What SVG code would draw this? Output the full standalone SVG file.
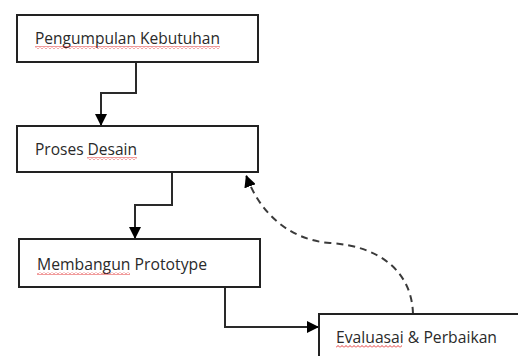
<svg xmlns="http://www.w3.org/2000/svg" width="518" height="356" viewBox="0 0 518 356">
  <defs>
    <marker id="arrow" viewBox="0 0 10 10" refX="10" refY="5" markerWidth="12" markerHeight="12" markerUnits="userSpaceOnUse" orient="auto">
      <path d="M0,0 L10,5 L0,10 Z" fill="#000"/>
    </marker>
    <pattern id="squiggle" width="4" height="3" patternUnits="userSpaceOnUse">
      <path d="M0,2.5 L2,0.5 L4,2.5" fill="none" stroke="#e02020" stroke-width="0.9"/>
    </pattern>
  </defs>
  <style>
    .box { fill: #fff; stroke: #222; stroke-width: 2; }
    .label { font-family: "Open Sans", "Liberation Sans", sans-serif; font-size: 17px; fill: #2a2a2a; }
    .link { fill: none; stroke: #2a2a2a; stroke-width: 2; marker-end: url(#arrow); }
    .loop { fill: none; stroke: #3a3a3a; stroke-width: 2; stroke-dasharray: 7 5; marker-end: url(#arrow); }
    .spell { fill: url(#squiggle); }
  </style>
  <rect width="518" height="356" fill="#fff"/>

  <g id="connectors">
    <path class="link" d="M136,62 V93 H101 V126"/>
    <path class="link" d="M172,172 V205 H135 V239"/>
    <path class="link" d="M225,287 V327 H319"/>
    <path class="loop" d="M413,314 C412,272 380,246 330,243 C290,240 260,214 246,175"/>
  </g>

  <g id="pengumpulan-kebutuhan">
    <rect class="box" x="17" y="15" width="241" height="47"/>
    <text class="label" x="35" y="44" textLength="185" lengthAdjust="spacingAndGlyphs">Pengumpulan Kebutuhan</text>
    <rect class="spell" x="35" y="46" width="185" height="3"/>
  </g>

  <g id="proses-desain">
    <rect class="box" x="17" y="126" width="241" height="46"/>
    <text class="label" x="35" y="155" textLength="102" lengthAdjust="spacingAndGlyphs">Proses Desain</text>
    <rect class="spell" x="87" y="157" width="50" height="3"/>
  </g>

  <g id="membangun-prototype">
    <rect class="box" x="19" y="239" width="241" height="48"/>
    <text class="label" x="37" y="270" textLength="170" lengthAdjust="spacingAndGlyphs">Membangun Prototype</text>
    <rect class="spell" x="37" y="272" width="93" height="3"/>
  </g>

  <g id="evaluasi-perbaikan">
    <rect class="box" x="319" y="314" width="220" height="60"/>
    <text class="label" x="336" y="343" textLength="161" lengthAdjust="spacingAndGlyphs">Evaluasai &amp; Perbaikan</text>
    <rect class="spell" x="336" y="345" width="66" height="3"/>
  </g>
</svg>
